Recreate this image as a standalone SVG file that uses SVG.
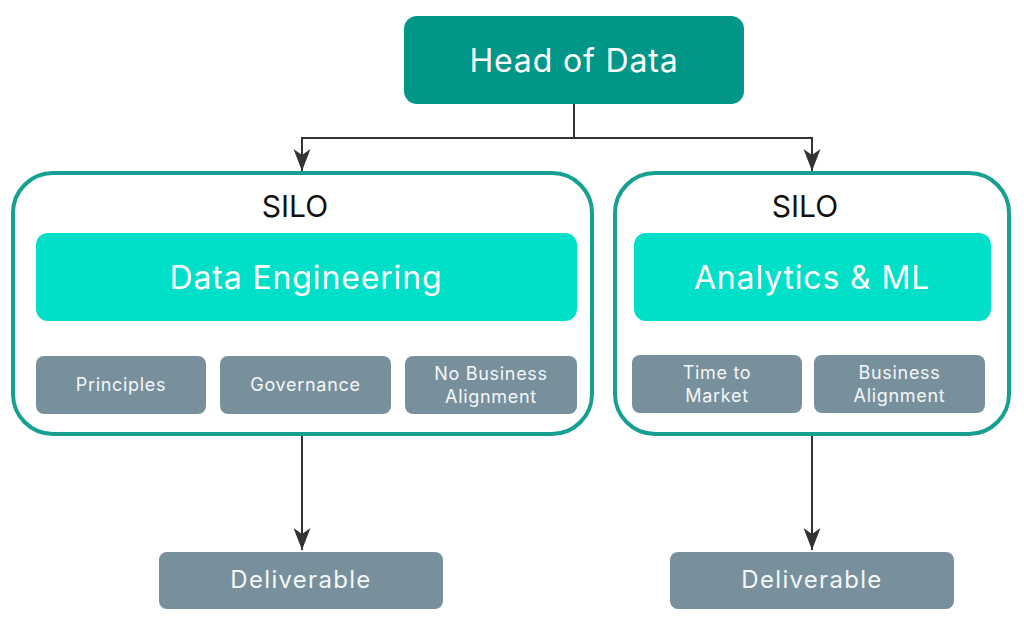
<svg xmlns="http://www.w3.org/2000/svg" width="1024" height="637" viewBox="0 0 1024 637">
  <style>
    text { font-family: Inter, "Open Sans", "Liberation Sans", sans-serif; text-anchor: middle; }
    .head { fill: #009688; }
    .silo { fill: #ffffff; stroke: #17a091; stroke-width: 4; }
    .team { fill: #00dfc8; }
    .grey { fill: #78909c; }
    .big { fill: #ffffff; font-size: 32px; letter-spacing: 0.85px; }
    .silotxt { fill: #111111; font-size: 30px; }
    .small { fill: #f4f7f8; font-size: 18px; letter-spacing: 0.7px; }
    .deliv { fill: #f4f7f8; font-size: 24px; letter-spacing: 1.3px; }
    .conn { fill: none; stroke: #333333; stroke-width: 2; }
  </style>
  <defs>
    <marker id="arrow" markerUnits="userSpaceOnUse" viewBox="0 -9 22 18" markerWidth="22" markerHeight="18" refX="22" refY="0" orient="auto">
      <path d="M0,-8.5 L22,0 L0,8.5 L6,0 Z" fill="#333333"/>
    </marker>
  </defs>
  <rect width="1024" height="637" fill="#ffffff"/>

  <g id="connectors">
    <polyline class="conn" points="574,104 574,138"/>
    <polyline class="conn" points="574,138 302,138 302,171" marker-end="url(#arrow)"/>
    <polyline class="conn" points="574,138 812,138 812,171" marker-end="url(#arrow)"/>
    <line class="conn" x1="302" y1="435" x2="302" y2="550" marker-end="url(#arrow)"/>
    <line class="conn" x1="812" y1="435" x2="812" y2="550" marker-end="url(#arrow)"/>
  </g>

  <g id="head-of-data">
    <rect class="head" x="404" y="16" width="340" height="88" rx="13"/>
    <text class="big" x="574" y="72">Head of Data</text>
  </g>

  <g id="silo-left">
    <rect class="silo" x="13" y="173" width="579" height="261" rx="40"/>
    <text class="silotxt" x="295" y="217">SILO</text>
  </g>
  <g id="data-engineering">
    <rect class="team" x="36" y="233" width="541" height="88" rx="12"/>
    <text class="big" x="306" y="289">Data Engineering</text>
  </g>
  <g id="principles">
    <rect class="grey" x="36" y="356" width="170" height="58" rx="8"/>
    <text class="small" x="121" y="391">Principles</text>
  </g>
  <g id="governance">
    <rect class="grey" x="220" y="356" width="171" height="58" rx="8"/>
    <text class="small" x="305.5" y="391">Governance</text>
  </g>
  <g id="no-business-alignment">
    <rect class="grey" x="405" y="356" width="172" height="58" rx="8"/>
    <text class="small" x="491" y="380">No Business</text>
    <text class="small" x="491" y="403">Alignment</text>
  </g>

  <g id="silo-right">
    <rect class="silo" x="615" y="173" width="394" height="261" rx="40"/>
    <text class="silotxt" x="805" y="217">SILO</text>
  </g>
  <g id="analytics-ml">
    <rect class="team" x="634" y="233" width="357" height="88" rx="12"/>
    <text class="big" x="812" y="289">Analytics &amp; ML</text>
  </g>
  <g id="time-to-market">
    <rect class="grey" x="632" y="355" width="170" height="58" rx="8"/>
    <text class="small" x="717" y="379">Time to</text>
    <text class="small" x="717" y="402">Market</text>
  </g>
  <g id="business-alignment">
    <rect class="grey" x="814" y="355" width="171" height="58" rx="8"/>
    <text class="small" x="899.5" y="379">Business</text>
    <text class="small" x="899.5" y="402">Alignment</text>
  </g>

  <g id="deliverable-left">
    <rect class="grey" x="159" y="552" width="284" height="57" rx="8"/>
    <text class="deliv" x="301" y="588">Deliverable</text>
  </g>
  <g id="deliverable-right">
    <rect class="grey" x="670" y="552" width="284" height="57" rx="8"/>
    <text class="deliv" x="812" y="588">Deliverable</text>
  </g>
</svg>
